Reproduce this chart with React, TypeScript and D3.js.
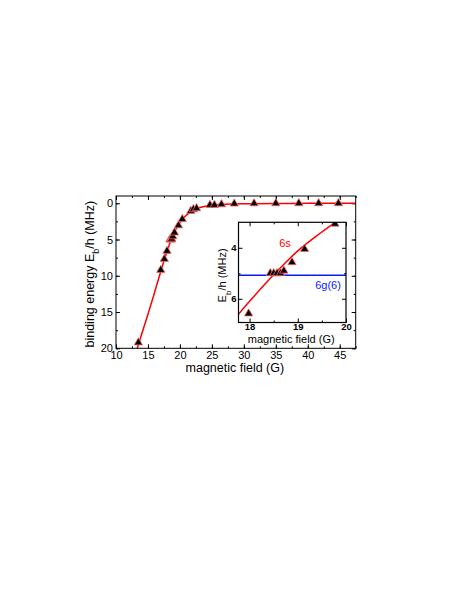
import { useEffect, useRef } from 'react';
import * as d3 from 'd3';

// measured points (shared by main plot and inset)
const pointField = [13.5, 17.0, 17.56, 17.98, 18.43, 18.5, 18.57, 18.64, 18.71, 18.88, 19.14, 19.77, 20.37, 21.7, 22.1, 22.6, 24.7, 25.4, 26.5, 28.5, 31.6, 35.0, 38.6, 41.7, 44.8];
const pointEnergy = [19.2, 9.2, 7.7, 6.58, 5.0, 5.0, 5.0, 5.0, 4.9, 4.57, 4.05, 3.06, 2.2, 1.07, 0.84, 0.7, 0.24, 0.24, 0.15, 0.06, 0.03, 0.02, 0.01, 0.01, 0.01];

// fitted 6s curve, main panel
const fitField = [13.3, 14, 15, 16, 17, 17.5, 18, 18.5, 19, 19.5, 20, 20.5, 21, 21.5, 22, 23, 24, 25, 26.5, 28, 30, 35, 40, 47.5];
const fitEnergy = [20.1, 18.1, 15.3, 12.4, 9.4, 7.95, 6.6, 5.3, 4.2, 3.35, 2.65, 2.1, 1.65, 1.3, 1.0, 0.62, 0.4, 0.27, 0.17, 0.11, 0.07, 0.03, 0.015, 0];

// fitted 6s curve, inset
const insetFitField = [17.7, 18, 18.5, 19, 19.5, 19.85];
const insetFitEnergy = [6.76, 6.1, 5.06, 4.12, 3.38, 2.9];

// 6g(6) level
const gLevel = 5.08;

const mainXTicks = [10, 15, 20, 25, 30, 35, 40, 45];
const mainYTicks = [0, 5, 10, 15, 20];
const insetXTicks = [18, 19, 20];
const insetYTicks = [4, 6];

const FONT = "'Liberation Sans', Arial, sans-serif";

export default function App() {
  const svgRef = useRef<SVGSVGElement>(null);

  useEffect(() => {
    const svg = d3.select(svgRef.current);
    svg.selectAll('*').remove();

    const pts = pointField.map((b, i) => ({ b, e: pointEnergy[i] }));
    const tri = d3.symbol().type(d3.symbolTriangle).size(30);

    // ---------- main panel ----------
    const m = { left: 116, right: 355.7, top: 196, bottom: 348.3 };
    const x = d3.scaleLinear().domain([10, 47.5]).range([m.left, m.right]);
    const y = d3.scaleLinear().domain([-1, 20]).range([m.top, m.bottom]);

    const axisStyle = (g) => {
      g.select('.domain').remove();
      g.selectAll('line').attr('stroke', '#000');
      g.selectAll('text').attr('fill', '#000').style('font-family', FONT);
    };

    const minorX = d3.range(10, 47.6, 2.5);
    const minorY = d3.range(0, 20.1, 2.5);

    svg.append('g').attr('transform', `translate(0,${m.bottom})`)
      .call(d3.axisBottom(x).tickValues(mainXTicks).tickSize(-4).tickPadding(3).tickFormat(d3.format('d')))
      .call(axisStyle).selectAll('text').style('font-size', '11px');
    svg.append('g').attr('transform', `translate(0,${m.bottom})`)
      .call(d3.axisBottom(x).tickValues(minorX).tickSize(-2).tickFormat(() => '')).call(axisStyle);
    svg.append('g').attr('transform', `translate(0,${m.top})`)
      .call(d3.axisTop(x).tickValues(mainXTicks).tickSize(-4).tickFormat(() => '')).call(axisStyle);
    svg.append('g').attr('transform', `translate(0,${m.top})`)
      .call(d3.axisTop(x).tickValues(minorX).tickSize(-2).tickFormat(() => '')).call(axisStyle);

    svg.append('g').attr('transform', `translate(${m.left},0)`)
      .call(d3.axisLeft(y).tickValues(mainYTicks).tickSize(-4).tickPadding(3).tickFormat(d3.format('d')))
      .call(axisStyle).selectAll('text').style('font-size', '11px');
    svg.append('g').attr('transform', `translate(${m.left},0)`)
      .call(d3.axisLeft(y).tickValues(minorY).tickSize(-2).tickFormat(() => '')).call(axisStyle);
    svg.append('g').attr('transform', `translate(${m.right},0)`)
      .call(d3.axisRight(y).tickValues(mainYTicks).tickSize(-4).tickFormat(() => '')).call(axisStyle);
    svg.append('g').attr('transform', `translate(${m.right},0)`)
      .call(d3.axisRight(y).tickValues(minorY).tickSize(-2).tickFormat(() => '')).call(axisStyle);

    svg.append('clipPath').attr('id', 'main-clip')
      .append('rect').attr('x', m.left).attr('y', m.top)
      .attr('width', m.right - m.left).attr('height', m.bottom - m.top);

    const line = d3.line<number>()
      .x((d, i) => x(fitField[i]))
      .y((d) => y(d))
      .curve(d3.curveMonotoneX);

    const plot = svg.append('g').attr('clip-path', 'url(#main-clip)');
    plot.append('path').attr('d', line(fitEnergy))
      .attr('fill', 'none').attr('stroke', '#ff0000').attr('stroke-width', 1.5);

    svg.append('g').selectAll('path').data(pts).enter().append('path')
      .attr('d', tri)
      .attr('transform', (d) => `translate(${x(d.b)},${y(d.e)})`)
      .attr('fill', '#000').attr('stroke', '#ff6b6b').attr('stroke-width', 0.8);

    svg.append('rect').attr('x', m.left).attr('y', m.top)
      .attr('width', m.right - m.left).attr('height', m.bottom - m.top)
      .attr('fill', 'none').attr('stroke', '#000').attr('stroke-width', 1);

    svg.append('text').attr('x', (m.left + m.right) / 2 - 1).attr('y', 372)
      .attr('text-anchor', 'middle').style('font-family', FONT).style('font-size', '12.5px')
      .text('magnetic field (G)');

    const yl = svg.append('text')
      .attr('transform', `translate(94,${(m.top + m.bottom) / 2 + 2}) rotate(-90)`)
      .attr('text-anchor', 'middle').style('font-family', FONT).style('font-size', '12.5px');
    yl.append('tspan').text('binding energy E');
    yl.append('tspan').attr('baseline-shift', 'sub').style('font-size', '9px').text('b');
    yl.append('tspan').text('/h (MHz)');

    // ---------- inset ----------
    const n = { left: 238.5, right: 346, top: 222.3, bottom: 322.5 };
    const ix = d3.scaleLinear().domain([17.77, 20]).range([n.left, n.right]);
    const iy = d3.scaleLinear().domain([3, 6.93]).range([n.top, n.bottom]);

    svg.append('rect').attr('x', n.left).attr('y', n.top)
      .attr('width', n.right - n.left).attr('height', n.bottom - n.top).attr('fill', '#fff');

    svg.append('clipPath').attr('id', 'inset-clip')
      .append('rect').attr('x', n.left).attr('y', n.top)
      .attr('width', n.right - n.left).attr('height', n.bottom - n.top);

    const inset = svg.append('g').attr('clip-path', 'url(#inset-clip)');

    inset.append('line').attr('x1', n.left).attr('x2', n.right)
      .attr('y1', iy(gLevel)).attr('y2', iy(gLevel))
      .attr('stroke', '#0a1aff').attr('stroke-width', 1.5);

    const iline = d3.line<number>()
      .x((d, i) => ix(insetFitField[i]))
      .y((d) => iy(d))
      .curve(d3.curveMonotoneX);
    inset.append('path').attr('d', iline(insetFitEnergy))
      .attr('fill', 'none').attr('stroke', '#ff0000').attr('stroke-width', 1.5);

    inset.selectAll('path.pt')
      .data(pts.filter((d) => d.b > 17.7 && d.b < 20 && d.e > 2.8 && d.e < 7))
      .enter().append('path').attr('class', 'pt')
      .attr('d', tri)
      .attr('transform', (d) => `translate(${ix(d.b)},${iy(d.e)})`)
      .attr('fill', '#000').attr('stroke', '#ff6b6b').attr('stroke-width', 0.8);

    const iMinorX = [18.5, 19.5];
    svg.append('g').attr('transform', `translate(0,${n.bottom})`)
      .call(d3.axisBottom(ix).tickValues(insetXTicks).tickSize(-4).tickPadding(1).tickFormat(d3.format('d')))
      .call(axisStyle).selectAll('text').style('font-size', '9.5px').style('font-weight', 'bold');
    svg.append('g').attr('transform', `translate(0,${n.bottom})`)
      .call(d3.axisBottom(ix).tickValues(iMinorX).tickSize(-2).tickFormat(() => '')).call(axisStyle);
    svg.append('g').attr('transform', `translate(0,${n.top})`)
      .call(d3.axisTop(ix).tickValues(insetXTicks).tickSize(-4).tickFormat(() => '')).call(axisStyle);
    svg.append('g').attr('transform', `translate(0,${n.top})`)
      .call(d3.axisTop(ix).tickValues(iMinorX).tickSize(-2).tickFormat(() => '')).call(axisStyle);

    const iMinorY = [5];
    svg.append('g').attr('transform', `translate(${n.left},0)`)
      .call(d3.axisLeft(iy).tickValues(insetYTicks).tickSize(-4).tickPadding(2).tickFormat(d3.format('d')))
      .call(axisStyle).selectAll('text').style('font-size', '9.5px').style('font-weight', 'bold');
    svg.append('g').attr('transform', `translate(${n.left},0)`)
      .call(d3.axisLeft(iy).tickValues(iMinorY).tickSize(-2).tickFormat(() => '')).call(axisStyle);
    svg.append('g').attr('transform', `translate(${n.right},0)`)
      .call(d3.axisRight(iy).tickValues(insetYTicks).tickSize(-4).tickFormat(() => '')).call(axisStyle);
    svg.append('g').attr('transform', `translate(${n.right},0)`)
      .call(d3.axisRight(iy).tickValues(iMinorY).tickSize(-2).tickFormat(() => '')).call(axisStyle);

    svg.append('rect').attr('x', n.left).attr('y', n.top)
      .attr('width', n.right - n.left).attr('height', n.bottom - n.top)
      .attr('fill', 'none').attr('stroke', '#000').attr('stroke-width', 1.2);

    svg.append('text').attr('x', 285).attr('y', 247)
      .attr('text-anchor', 'middle').attr('fill', '#ff0000')
      .style('font-family', FONT).style('font-size', '11px').text('6s');
    svg.append('text').attr('x', 328).attr('y', 289)
      .attr('text-anchor', 'middle').attr('fill', '#0a1aff')
      .style('font-family', FONT).style('font-size', '11px').text('6g(6)');

    svg.append('text').attr('x', (n.left + n.right) / 2 - 1).attr('y', 343)
      .attr('text-anchor', 'middle').style('font-family', FONT).style('font-size', '11px')
      .text('magnetic field (G)');

    const iyl = svg.append('text')
      .attr('transform', `translate(226,${(n.top + n.bottom) / 2 + 3}) rotate(-90)`)
      .attr('text-anchor', 'middle').style('font-family', FONT).style('font-size', '11px');
    iyl.append('tspan').text('E');
    iyl.append('tspan').attr('baseline-shift', 'sub').style('font-size', '8px').text('b');
    iyl.append('tspan').text('/h (MHz)');
  }, []);

  return (
    <svg
      ref={svgRef}
      width={463}
      height={599}
      style={{ position: 'absolute', left: 0, top: 0, background: '#fff' }}
    />
  );
}
